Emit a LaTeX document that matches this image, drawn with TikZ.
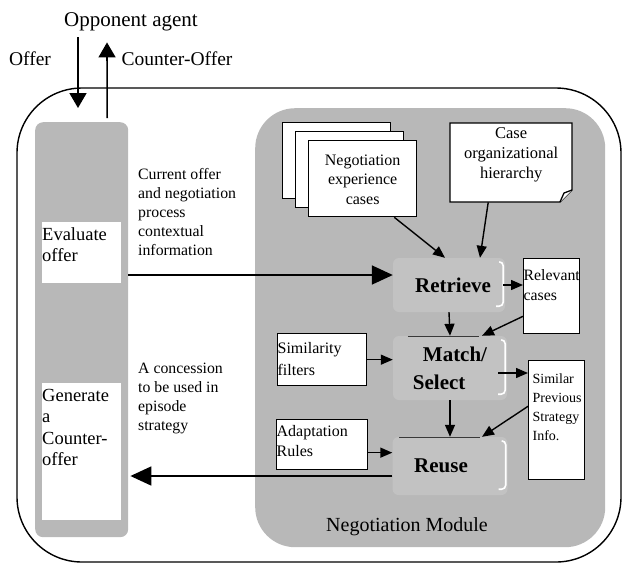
\documentclass[tikz,border=0pt]{standalone}
\usepackage{fontspec}
\setmainfont{Liberation Serif}
\usetikzlibrary{arrows.meta,calc}

\definecolor{panelgray}{gray}{0.72}
\definecolor{stepgray}{gray}{0.76}

\begin{document}
\begin{tikzpicture}[x=1pt,y=-1pt,
  labeltxt/.style={font=\fontsize{19.5}{23}\selectfont, inner sep=0pt},
  sidetxt/.style={font=\fontsize{15.8}{19}\selectfont, align=left, anchor=north west, inner sep=0pt},
  boxed/.style={draw, line width=1.3pt, fill=white, inner sep=0pt, anchor=north west},
  stage/.style={fill=stepgray, rounded corners=6pt,
                inner sep=0pt, font=\fontsize{21}{28}\bfseries\selectfont},
  stageedge/.style={white, line width=1.6pt, rounded corners=4pt},
  stagetop/.style={gray!45!black, line width=0.6pt},
  arr/.style={line width=1.4pt, -{Triangle[length=12pt,width=10pt]}},
  bigarr/.style={line width=1.8pt, -{Triangle[length=21pt,width=19pt]}},
  io/.style={line width=1.6pt, -{Triangle[length=15pt,width=17pt]}},
]
\useasboundingbox (0,0) rectangle (624,566);

% outer agent frame
\draw[line width=1.4pt, rounded corners=65pt] (17,88) rectangle (621,562);

% opponent side
\node[labeltxt, font=\fontsize{21}{25}\selectfont] (opp) at (131,22) {Opponent agent};
\node[labeltxt] (offerlbl) at (30,59) {Offer};
\node[labeltxt] (counterlbl) at (177,59) {Counter-Offer};

% left column of the agent
\node[fill=panelgray, rounded corners=8pt, minimum width=93pt, minimum height=415pt,
      anchor=north west, inner sep=0pt] (agentcol) at (35,122) {};
\node[fill=white, inner sep=0pt, anchor=north west, font=\fontsize{18.5}{21.5}\selectfont]
  (evaluate) at (42,222) {\parbox[c][61pt][t]{79pt}{\vspace*{5pt}Evaluate\\offer}};
\node[fill=white, inner sep=0pt, anchor=north west, font=\fontsize{18.5}{21.5}\selectfont]
  (generate) at (42,383) {\parbox[c][137pt][t]{79pt}{\vspace*{6pt}Generate\\a\\Counter-\\offer}};

\coordinate (offerin) at (78,108);
\draw[io] ($(opp.south -| offerin)+(0,6)$) -- (offerin);
\draw[io] ($(agentcol.north)+(25.5,-4)$) -- ($(opp.south)+(-24,11)$);

% annotations of the exchanged information
\node[sidetxt] (offerinfo) at (138,168) {Current offer\\and negotiation\\process\\contextual\\information};
\node[sidetxt] (concession) at (138,363) {A concession\\to be used in\\episode\\strategy};

% negotiation module
\node[fill=panelgray, rounded corners=40pt, minimum width=350pt, minimum height=439pt,
      anchor=north west, inner sep=0pt] (module) at (255,108) {};
\node[labeltxt, font=\fontsize{20}{24}\selectfont] (modlabel) at (407,527) {Negotiation Module};

% stack of case documents
\node[boxed, minimum width=108pt, minimum height=76pt] (docA) at (282,122) {};
\node[boxed, minimum width=108pt, minimum height=76pt] (docB) at (295,131) {};
\node[boxed, font=\fontsize{16}{19.5}\selectfont] (docC) at (308,140)
  {\parbox[c][76pt][t]{108pt}{\vspace*{14pt}\centering Negotiation\\experience\\cases}};

% case hierarchy note with folded corner
\draw[line width=1.3pt, fill=white] (450,123) -- (572,123) -- (572,190) -- (560,202) -- (450,202) -- cycle;
\draw[line width=1.3pt, fill=white] (560,202) -- (564,193) -- (572,190);
\node[inner sep=0pt, anchor=north west, font=\fontsize{16.5}{20}\selectfont] (hier) at (450,123)
  {\parbox[c][79pt][t]{122pt}{\vspace*{4pt}\centering Case\\organizational\\hierarchy}};

% reasoning stages
\node[stage, minimum width=112pt, minimum height=54pt] (retrieve) at (449,285) {\hspace*{8pt}Retrieve};
\node[stage, minimum width=114pt, minimum height=64pt, align=left] (match) at (450,368) {\hspace*{10pt}Match/\\Select};
\node[stage, minimum width=115pt, minimum height=58pt] (reuse) at (450,466) {Reuse\hspace*{18pt}};

% light right rims and dark top rims of the stages
\foreach \s in {retrieve, match, reuse}
  \draw[stageedge] ([xshift=-6pt,yshift=-4pt]\s.north east) -- ([xshift=-2pt,yshift=-4pt]\s.north east)
        -- ([xshift=-2pt,yshift=6pt]\s.south east) -- ([xshift=-9pt,yshift=6pt]\s.south east);
\draw[stagetop] ([xshift=15pt]match.north west) -- ([xshift=-28pt]match.north east);
\draw[stagetop] ([xshift=7pt]reuse.north west) -- ([xshift=-28pt]reuse.north east);

% knowledge boxes
\node[boxed, font=\fontsize{15.8}{20}\selectfont] (relevant) at (523,258)
  {\parbox[c][75pt][t]{56pt}{\vspace*{11pt}Relevant\\cases}};
\node[boxed, font=\fontsize{16}{22}\selectfont] (simil) at (277,333)
  {\parbox[c][52pt][t]{89pt}{\vspace*{9pt}Similarity\\filters}};
\node[boxed, font=\fontsize{14}{19}\selectfont] (similar) at (528,360)
  {\parbox[c][119pt][t]{56pt}{\vspace*{13pt}\leftskip=4pt Similar\\Previous\\Strategy\\Info.}};
\node[boxed, font=\fontsize{16}{20}\selectfont] (adapt) at (276,419)
  {\parbox[c][50pt][t]{91pt}{\vspace*{6pt}Adaptation\\Rules}};

% connectors inside the module
\draw[arr] ([xshift=-23pt]docC.south east) -- ([xshift=-4pt]retrieve.north);
\draw[arr] ([xshift=-23pt]hier.south) -- ([xshift=31pt]retrieve.north);
\draw[arr] ([xshift=-2pt]retrieve.east) -- (retrieve.east -| relevant.west);
\draw[arr] (retrieve.south) -- (match.north);
\draw[arr] ([yshift=18pt]relevant.south west) -- ([xshift=32pt]match.north);
\draw[arr] (simil.east) -- (simil.east -| match.west);
\draw[arr] ([xshift=-9pt,yshift=-5pt]match.east) -- ([yshift=-5pt]match.east -| similar.west);
\draw[arr] (match.south) -- (reuse.north);
\draw[arr] ([yshift=74pt]similar.south west) -- ([xshift=32pt]reuse.north);
\draw[arr] ([yshift=-8pt]adapt.east) -- ([yshift=-8pt]adapt.east -| reuse.west);

% exchanges between the agent column and the module
\draw[bigarr] ([yshift=10pt]retrieve.west -| agentcol.east) -- ([yshift=10pt]retrieve.west);
\draw[bigarr] ([yshift=-10pt]reuse.west) -- ([yshift=-10pt,xshift=2pt]reuse.west -| agentcol.east);
\end{tikzpicture}
\end{document}
